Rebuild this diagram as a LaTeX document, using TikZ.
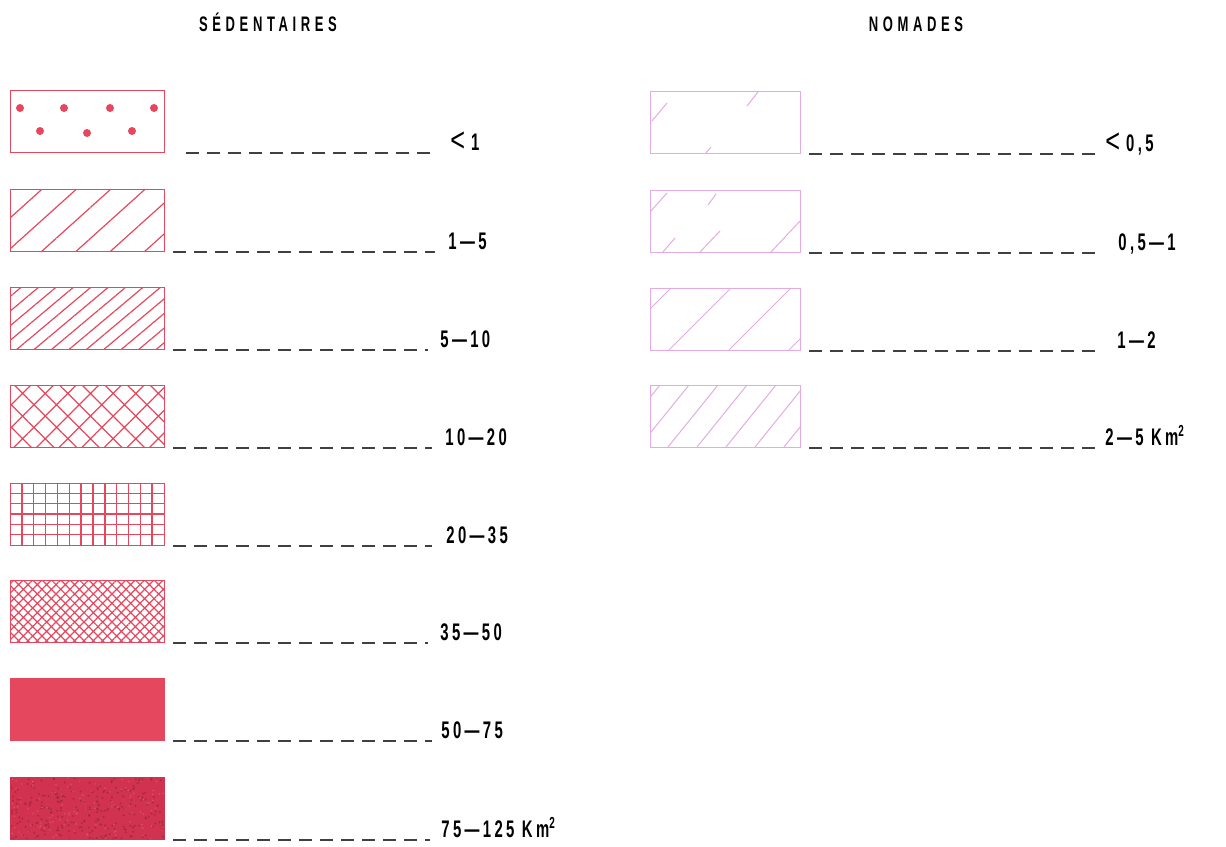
\documentclass[tikz,border=0pt]{standalone}
\usepackage{fontspec}
\setmainfont{Liberation Sans}[FakeStretch=0.62, LetterSpace=14, UprightFont=* Bold]
\newfontfamily\headfont{Liberation Sans}[FakeStretch=0.62, LetterSpace=22, UprightFont=* Bold]
\newfontfamily\thinfont{Liberation Sans}[FakeStretch=0.62]
\usetikzlibrary{patterns.meta}

\definecolor{sred}{RGB}{229,72,94}
\definecolor{sdark}{RGB}{208,50,80}
\definecolor{npink}{RGB}{226,172,226}

\newcommand{\lessmark}{\raisebox{-0.08em}{\scalebox{1.7}[1.4]{\thinfont<}}\hspace{3pt}}

\tikzset{
  sbox/.style={draw=sred, line width=0.6pt, minimum width=77pt, minimum height=31pt, inner sep=0pt, anchor=north west},
  nbox/.style={draw=npink, line width=0.5pt, minimum width=75pt, minimum height=31pt, inner sep=0pt, anchor=north west},
  nhatch/.style={npink, line width=0.5pt},
  shatch/.style={sred, line width=0.75pt},
  leader/.style={black!75, line width=0.75pt, dash pattern=on 6.5pt off 4pt},
  lbl/.style={anchor=base west, inner sep=0pt, font=\fontsize{12}{13}\selectfont},
  head/.style={anchor=base, inner sep=0pt, font=\headfont\fontsize{10.5}{11}\selectfont},
}

\begin{document}
\begin{tikzpicture}[x=0.5pt, y=-0.5pt]
		\useasboundingbox (0,0) rectangle (1226,846);

		% >>> headings
		\node[head] (hsed) at (268,32) {SÉDENTAIRES};
		\node[head] (hnom) at (916,32) {NOMADES};
		% <<< headings

		% >>> sedentaires
		\node[sbox] (s1) at (10,90) {};
		\node[sbox, pattern={Lines[angle=42, distance=11.5pt, line width=0.6pt]}, pattern color=sred] (s2) at (10,189) {};
		\node[sbox, pattern={Lines[angle=40, distance=5.6pt, line width=0.6pt]}, pattern color=sred] (s3) at (10,287) {};
		\node[sbox, pattern={Hatch[angle=45, distance=8pt, line width=0.6pt]}, pattern color=sred] (s4) at (10,385) {};
		\node[sbox] (s5) at (10,483) {};
		\node[sbox, pattern={Hatch[angle=45, distance=3.3pt, line width=0.6pt]}, pattern color=sred] (s6) at (10,580) {};
		\node[sbox, fill=sred] (s7) at (10,678) {};
		\node[sbox, draw=sdark, fill=sdark,
			path picture={\pgfmathsetseed{11}
				\foreach \i in {1,...,260}
					\fill[sdark!70!black, opacity=0.6] ([xshift={rnd*77pt}, yshift={rnd*31pt}]path picture bounding box.south west) circle (0.55pt);
				\foreach \i in {1,...,120}
					\fill[sred!80!white, opacity=0.5] ([xshift={rnd*77pt}, yshift={rnd*31pt}]path picture bounding box.south west) circle (0.45pt);}] (s8) at (10,777) {};

		\fill[sred] (20,108) circle (2pt);
		\fill[sred] (64,108) circle (2pt);
		\fill[sred] (110,108) circle (2pt);
		\fill[sred] (154,108) circle (2pt);
		\fill[sred] (40,131) circle (2pt);
		\fill[sred] (87,133) circle (2pt);
		\fill[sred] (132,131) circle (2pt);

		\foreach \k in {1,...,12}
			\draw[shatch] (10+\k*11.85,483) -- (10+\k*11.85,545);
		\foreach \k in {1,...,5}
			\draw[shatch] (10,483+\k*10.33) -- (164,483+\k*10.33);

		\node[lbl] (t1) at (450,150) {\lessmark 1};
		\node[lbl] (t2) at (448,249) {1—5};
		\node[lbl] (t3) at (440,347) {5—10};
		\node[lbl] (t4) at (445,445) {10—20};
		\node[lbl] (t5) at (446,543) {20—35};
		\node[lbl] (t6) at (440,640) {35—50};
		\node[lbl] (t7) at (441,738) {50—75};
		\node[lbl] (t8) at (441,837) {75—125 Km\textsuperscript{2}};

		\draw[leader] ([xshift=10.5pt]s1.south east) -- ([xshift=-7.5pt]t1.west |- s1.south);
		\draw[leader] ([xshift=4pt]s2.south east) -- ([xshift=-6.5pt]t2.west |- s2.south);
		\draw[leader] ([xshift=4pt]s3.south east) -- ([xshift=-6pt]t3.west |- s3.south);
		\draw[leader] ([xshift=4pt]s4.south east) -- ([xshift=-6.5pt]t4.west |- s4.south);
		\draw[leader] ([xshift=4pt]s5.south east) -- ([xshift=-7pt]t5.west |- s5.south);
		\draw[leader] ([xshift=4pt]s6.south east) -- ([xshift=-6pt]t6.west |- s6.south);
		\draw[leader] ([xshift=4pt]s7.south east) -- ([xshift=-4.5pt]t7.west |- s7.south);
		\draw[leader] ([xshift=4pt]s8.south east) -- ([xshift=-5.5pt]t8.west |- s8.south);
		% <<< sedentaires

		% >>> nomades
		\node[nbox] (n1) at (650,91) {};
		\node[nbox] (n2) at (650,190) {};
		\node[nbox] (n3) at (650,288) {};
		\node[nbox] (n4) at (650,385) {};

		\draw[nhatch] (652,121) -- (667,103);
		\draw[nhatch] (747,106) -- (758,92);
		\draw[nhatch] (706,153) -- (711,147);

		\draw[nhatch] (651,211) -- (667,193);
		\draw[nhatch] (708,205) -- (716,194);
		\draw[nhatch] (663,252) -- (675,238);
		\draw[nhatch] (700,252) -- (720,231);
		\draw[nhatch] (771,252) -- (800,221);

		\draw[nhatch] (650,309) -- (671,288);
		\draw[nhatch] (669,350) -- (731,288);
		\draw[nhatch] (729,350) -- (791,288);
		\draw[nhatch] (789,350) -- (800,339);

		\begin{scope}
			\clip (n4.south west) rectangle (n4.north east);
			\foreach \xb in {610,639,...,790}
				\draw[nhatch] (\xb,447) -- (\xb+50,385);
		\end{scope}

		\node[lbl] (u1) at (1105,151) {\lessmark 0,5};
		\node[lbl] (u2) at (1118,250) {0,5—1};
		\node[lbl] (u3) at (1117,348) {1—2};
		\node[lbl] (u4) at (1105,445) {2—5 Km\textsuperscript{2}};

		\draw[leader] ([xshift=4pt]n1.south east) -- ([xshift=-2.5pt]u1.west |- n1.south);
		\draw[leader] ([xshift=4pt]n2.south east) -- ([xshift=-9pt]u2.west |- n2.south);
		\draw[leader] ([xshift=4pt]n3.south east) -- ([xshift=-8.5pt]u3.west |- n3.south);
		\draw[leader] ([xshift=4pt]n4.south east) -- ([xshift=-2.5pt]u4.west |- n4.south);
		% <<< nomades

	\end{tikzpicture}
\end{document}
